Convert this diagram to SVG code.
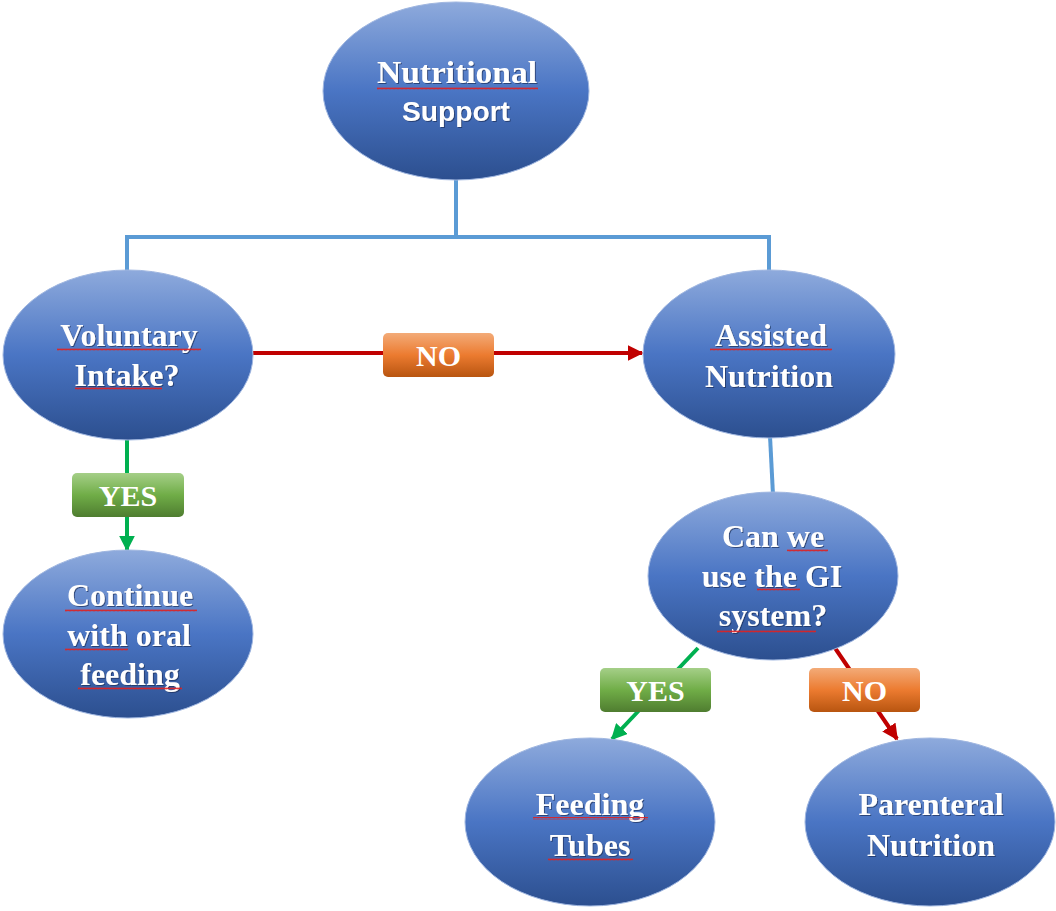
<svg xmlns="http://www.w3.org/2000/svg" width="1056" height="911" viewBox="0 0 1056 911">
<defs>
<linearGradient id="gBlue" x1="0" y1="0" x2="0" y2="1">
<stop offset="0" stop-color="#8eaadc"/>
<stop offset="0.5" stop-color="#4a75c4"/>
<stop offset="1" stop-color="#2c4f8f"/>
</linearGradient>
<linearGradient id="gOrange" x1="0" y1="0" x2="0" y2="1">
<stop offset="0" stop-color="#f3ab78"/>
<stop offset="0.5" stop-color="#ec7b30"/>
<stop offset="1" stop-color="#b85510"/>
</linearGradient>
<linearGradient id="gGreen" x1="0" y1="0" x2="0" y2="1">
<stop offset="0" stop-color="#a5cf88"/>
<stop offset="0.5" stop-color="#70ad47"/>
<stop offset="1" stop-color="#4f7d30"/>
</linearGradient>
<pattern id="sq" x="0" y="0" width="4" height="3" patternUnits="userSpaceOnUse">
<path d="M0 2.4 L1 0.6 L2 2.4 L3 0.6 L4 2.4" fill="none" stroke="#e02020" stroke-width="0.9"/>
</pattern>
<filter id="ts" x="-10%" y="-10%" width="120%" height="130%">
<feDropShadow dx="1" dy="1" stdDeviation="0.6" flood-color="#1a2f5a" flood-opacity="0.7"/>
</filter>
<marker id="aRed" viewBox="0 0 10 10" refX="9" refY="5" markerWidth="4" markerHeight="4" orient="auto" markerUnits="strokeWidth">
<path d="M0 0 L10 5 L0 10 Z" fill="#c00000"/>
</marker>
<marker id="aGreen" viewBox="0 0 10 10" refX="9" refY="5" markerWidth="4" markerHeight="4" orient="auto" markerUnits="strokeWidth">
<path d="M0 0 L10 5 L0 10 Z" fill="#00b050"/>
</marker>
</defs>
<style>
.node ellipse{fill:url(#gBlue);stroke:#9fb6e0;stroke-width:1}
.t{font-family:"Liberation Serif","Times New Roman",serif;font-weight:bold;font-size:32px;fill:#ffffff;text-anchor:middle;filter:url(#ts)}
.s{font-family:"Liberation Sans",Arial,sans-serif;font-weight:bold;font-size:28px;fill:#ffffff;text-anchor:middle;filter:url(#ts)}
.lb{font-family:"Liberation Serif","Times New Roman",serif;font-weight:bold;font-size:30px;fill:#ffffff;text-anchor:middle}
.sq{fill:url(#sq)}
.blue{fill:none;stroke:#5b9bd5;stroke-width:4}
.red{fill:none;stroke:#c00000;stroke-width:4;marker-end:url(#aRed)}
.green{fill:none;stroke:#00b050;stroke-width:4;marker-end:url(#aGreen)}
</style>

<g id="connectors">
<polyline class="blue" points="456,178 456,237"/>
<polyline class="blue" points="127,272 127,237 769,237 769,272"/>
<line class="blue" x1="770" y1="436" x2="773" y2="495"/>
<line class="red" x1="253" y1="353" x2="642" y2="353"/>
<line class="green" x1="127" y1="440" x2="127" y2="550"/>
<line class="green" x1="698" y1="648" x2="612" y2="739"/>
<line class="red" x1="835" y1="648" x2="897" y2="739"/>
</g>

<g id="label-no-1">
<rect x="383" y="333" width="111" height="44" rx="5" fill="url(#gOrange)"/>
<text class="lb" x="438.5" y="366">NO</text>
</g>
<g id="label-yes-1">
<rect x="72" y="473" width="112" height="44" rx="5" fill="url(#gGreen)"/>
<text class="lb" x="128" y="506">YES</text>
</g>
<g id="label-yes-2">
<rect x="600" y="668" width="111" height="44" rx="5" fill="url(#gGreen)"/>
<text class="lb" x="655.5" y="701">YES</text>
</g>
<g id="label-no-2">
<rect x="809" y="668" width="111" height="44" rx="5" fill="url(#gOrange)"/>
<text class="lb" x="864.5" y="701">NO</text>
</g>

<g id="node-nutritional-support" class="node">
<ellipse cx="456" cy="91" rx="133" ry="89"/>
<text class="t" x="457" y="83" textLength="160" lengthAdjust="spacingAndGlyphs">Nutritional</text>
<text class="s" x="456" y="121" textLength="108" lengthAdjust="spacingAndGlyphs">Support</text>
<rect class="sq" x="377" y="87" width="161" height="3"/>
</g>

<g id="node-voluntary" class="node">
<ellipse cx="128" cy="355" rx="125" ry="85"/>
<text class="t" x="129" y="346">Voluntary</text>
<text class="t" x="127" y="386">Intake?</text>
<rect class="sq" x="57" y="348" width="144" height="3"/>
<rect class="sq" x="75" y="387" width="87" height="3"/>
</g>

<g id="node-assisted" class="node">
<ellipse cx="769" cy="354" rx="126" ry="84"/>
<text class="t" x="771" y="346">Assisted</text>
<text class="t" x="769" y="387">Nutrition</text>
<rect class="sq" x="710" y="348" width="122" height="3"/>
</g>

<g id="node-continue" class="node">
<ellipse cx="128" cy="634" rx="125" ry="84"/>
<text class="t" x="130" y="606">Continue</text>
<text class="t" x="129" y="646">with oral</text>
<text class="t" x="130" y="685">feeding</text>
<rect class="sq" x="65" y="609" width="132" height="3"/>
<rect class="sq" x="65" y="648" width="63" height="3"/>
<rect class="sq" x="78" y="687" width="104" height="3"/>
</g>

<g id="node-gi" class="node">
<ellipse cx="773" cy="576" rx="125" ry="84"/>
<text class="t" x="773" y="547">Can we</text>
<text class="t" x="772" y="587">use the GI</text>
<text class="t" x="773" y="626">system?</text>
<rect class="sq" x="787" y="549" width="41" height="3"/>
<rect class="sq" x="757" y="588" width="43" height="3"/>
<rect class="sq" x="717" y="630" width="99" height="3"/>
</g>

<g id="node-feeding-tubes" class="node">
<ellipse cx="590" cy="822" rx="125" ry="84"/>
<text class="t" x="590" y="815">Feeding</text>
<text class="t" x="590" y="856">Tubes</text>
<rect class="sq" x="533" y="817" width="115" height="3"/>
<rect class="sq" x="548" y="858" width="85" height="3"/>
</g>

<g id="node-parenteral" class="node">
<ellipse cx="930" cy="822" rx="125" ry="84"/>
<text class="t" x="931" y="815">Parenteral</text>
<text class="t" x="931" y="856">Nutrition</text>
</g>
</svg>
